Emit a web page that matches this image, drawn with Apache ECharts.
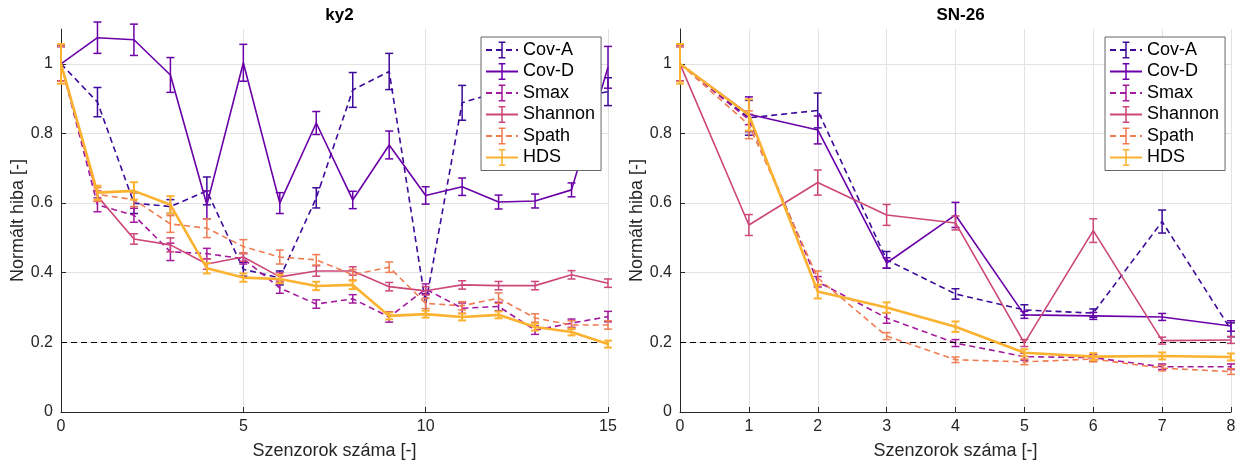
<!DOCTYPE html>
<html>
<head>
<meta charset="utf-8">
<script src="https://cdn.jsdelivr.net/npm/echarts@6/dist/echarts.min.js"></script>
<style>
html,body{margin:0;padding:0;background:#fff;}
#chart{width:1242px;height:469px;}
</style>
</head>
<body>
<div id="chart"></div>
<script>
// ---------------- DATA ----------------
const seriesNames = ['Cov-A', 'Cov-D', 'Smax', 'Shannon', 'Spath', 'HDS'];
const titles = ['ky2', 'SN-26'];
const xName = 'Szenzorok száma [-]';
const yName = 'Normált hiba [-]';

// Left panel (ky2): x = 0..15
const xLeft = [0, 1, 2, 3, 4, 5, 6, 7, 8, 9, 10, 11, 12, 13, 14, 15];
const covA_L   = [1.00, 0.89, 0.60, 0.59, 0.635, 0.41, 0.385, 0.615, 0.925, 0.978, 0.31, 0.888, 0.92, 0.95, 0.90, 0.92];
const covA_Le  = [0.05, 0.042, 0.03, 0.02, 0.04, 0.02, 0.02, 0.029, 0.05, 0.052, 0.03, 0.05, 0.04, 0.04, 0.04, 0.04];
const covD_L   = [1.00, 1.075, 1.069, 0.968, 0.595, 1.003, 0.60, 0.83, 0.609, 0.767, 0.622, 0.647, 0.603, 0.606, 0.638, 0.99];
const covD_Le  = [0.05, 0.045, 0.045, 0.05, 0.04, 0.053, 0.03, 0.033, 0.025, 0.04, 0.025, 0.025, 0.02, 0.02, 0.02, 0.06];
const smax_L   = [1.00, 0.595, 0.565, 0.46, 0.455, 0.44, 0.356, 0.31, 0.325, 0.273, 0.353, 0.298, 0.303, 0.235, 0.255, 0.274];
const smax_Le  = [0.05, 0.02, 0.02, 0.025, 0.015, 0.015, 0.015, 0.012, 0.012, 0.015, 0.015, 0.015, 0.012, 0.012, 0.012, 0.015];
const shan_L   = [1.00, 0.62, 0.497, 0.48, 0.425, 0.445, 0.388, 0.405, 0.405, 0.36, 0.348, 0.365, 0.363, 0.363, 0.394, 0.37];
const shan_Le  = [0.05, 0.015, 0.015, 0.02, 0.015, 0.012, 0.012, 0.015, 0.012, 0.012, 0.012, 0.012, 0.012, 0.012, 0.012, 0.012];
const spath_L  = [1.00, 0.625, 0.61, 0.54, 0.528, 0.475, 0.445, 0.437, 0.394, 0.416, 0.312, 0.305, 0.327, 0.27, 0.25, 0.25];
const spath_Le = [0.05, 0.02, 0.02, 0.024, 0.027, 0.02, 0.02, 0.015, 0.015, 0.015, 0.015, 0.012, 0.015, 0.012, 0.012, 0.012];
const hds_L    = [1.00, 0.63, 0.635, 0.595, 0.413, 0.386, 0.382, 0.362, 0.365, 0.276, 0.281, 0.273, 0.279, 0.244, 0.23, 0.195];
const hds_Le   = [0.057, 0.02, 0.025, 0.025, 0.015, 0.012, 0.012, 0.012, 0.012, 0.01, 0.01, 0.01, 0.01, 0.01, 0.01, 0.01];

// Right panel (SN-26): x = 0..8
const xRight = [0, 1, 2, 3, 4, 5, 6, 7, 8];
const covA_R   = [1.00, 0.845, 0.866, 0.437, 0.339, 0.293, 0.284, 0.547, 0.236];
const covA_Re  = [0.05, 0.05, 0.05, 0.024, 0.015, 0.015, 0.012, 0.033, 0.02];
const covD_R   = [1.00, 0.855, 0.81, 0.428, 0.566, 0.279, 0.276, 0.273, 0.247];
const covD_Re  = [0.05, 0.05, 0.04, 0.015, 0.036, 0.01, 0.01, 0.01, 0.015];
const smax_R   = [1.00, 0.84, 0.374, 0.27, 0.198, 0.159, 0.156, 0.13, 0.13];
const smax_Re  = [0.05, 0.015, 0.015, 0.015, 0.01, 0.01, 0.01, 0.008, 0.008];
const shan_R   = [1.00, 0.537, 0.659, 0.566, 0.543, 0.198, 0.521, 0.205, 0.207];
const shan_Re  = [0.05, 0.03, 0.036, 0.03, 0.02, 0.01, 0.034, 0.01, 0.01];
const spath_R  = [1.00, 0.825, 0.385, 0.218, 0.15, 0.144, 0.152, 0.126, 0.116];
const spath_Re = [0.05, 0.04, 0.02, 0.01, 0.008, 0.008, 0.008, 0.008, 0.008];
const hds_R    = [1.00, 0.853, 0.346, 0.30, 0.245, 0.17, 0.159, 0.161, 0.158];
const hds_Re   = [0.057, 0.045, 0.02, 0.015, 0.015, 0.01, 0.01, 0.01, 0.01];

const refLevel = 0.2;
const yTicks = { min: 0, max: 1.1, interval: 0.2 };
const xTicksLeft = { min: 0, max: 15, interval: 5 };
const xTicksRight = { min: 0, max: 8, interval: 1 };

// ---------------- STYLE ----------------
const colors = ['#3d0a9a', '#6a00a8', '#a3199e', '#cc4778', '#ef7c52', '#fbb230'];
const dashed = [true, false, true, false, true, false];
const widths = [1.6, 1.6, 1.6, 1.6, 1.6, 2.6];
const FONT = 'Liberation Sans, Arial, Helvetica, sans-serif';
const AX = '#262626';
const GRIDC = '#e2e2e2';
const ebSymbol = 'path://M0,0M20,20M6,0H14V1.8H10.9V18.2H14V20H6V18.2H9.1V1.8H6Z';

const leftSets = [[covA_L, covA_Le], [covD_L, covD_Le], [smax_L, smax_Le], [shan_L, shan_Le], [spath_L, spath_Le], [hds_L, hds_Le]];
const rightSets = [[covA_R, covA_Re], [covD_R, covD_Re], [smax_R, smax_Re], [shan_R, shan_Re], [spath_R, spath_Re], [hds_R, hds_Re]];

function errRender(color, width) {
  return function (params, api) {
    const x = api.value(0), y = api.value(1), e = api.value(2);
    const t = api.coord([x, y + e]);
    const b = api.coord([x, y - e]);
    const hw = 4;
    const st = { stroke: color, lineWidth: width, fill: null };
    return {
      type: 'group',
      children: [
        { type: 'line', shape: { x1: t[0], y1: t[1], x2: b[0], y2: b[1] }, style: st },
        { type: 'line', shape: { x1: t[0] - hw, y1: t[1], x2: t[0] + hw, y2: t[1] }, style: st },
        { type: 'line', shape: { x1: b[0] - hw, y1: b[1], x2: b[0] + hw, y2: b[1] }, style: st }
      ]
    };
  };
}

const series = [];
function addPanel(idx, xs, sets) {
  sets.forEach((s, i) => {
    const vals = s[0], errs = s[1];
    const line = {
      type: 'line',
      name: seriesNames[i],
      xAxisIndex: idx, yAxisIndex: idx,
      data: xs.map((x, k) => [x, vals[k]]),
      symbol: ebSymbol,
      symbolSize: 14,
      showSymbol: false,
      silent: true,
      animation: false,
      emphasis: { disabled: true },
      itemStyle: { color: colors[i] },
      lineStyle: { color: colors[i], width: widths[i], type: dashed[i] ? [6, 4] : 'solid' },
      z: 2 + i
    };
    if (i === 0) {
      line.markLine = {
        silent: true,
        symbol: ['none', 'none'],
        label: { show: false },
        lineStyle: { color: '#000', width: 1, type: [6, 4] },
        data: [{ yAxis: refLevel }],
        animation: false
      };
    }
    series.push(line);
    series.push({
      type: 'custom',
      xAxisIndex: idx, yAxisIndex: idx,
      data: xs.map((x, k) => [x, vals[k], errs[k]]),
      renderItem: errRender(colors[i], i === 5 ? 2 : 1.5),
      silent: true,
      animation: false,
      clip: false,
      z: 2 + i
    });
  });
}
addPanel(0, xLeft, leftSets);
addPanel(1, xRight, rightSets);

function xAxisCfg(idx, t) {
  return {
    gridIndex: idx, type: 'value', min: t.min, max: t.max, interval: t.interval,
    name: xName, nameLocation: 'middle', nameGap: 30,
    nameTextStyle: { fontSize: 18, color: AX, fontFamily: FONT },
    axisLine: { show: true, onZero: false, lineStyle: { color: AX, width: 1 } },
    axisTick: { show: true, inside: true, length: 5, lineStyle: { color: AX } },
    axisLabel: { fontSize: 16, color: AX, fontFamily: FONT, margin: 7 },
    splitLine: { show: true, lineStyle: { color: GRIDC, width: 1 } }
  };
}
function yAxisCfg(idx) {
  return {
    gridIndex: idx, type: 'value', min: yTicks.min, max: yTicks.max, interval: yTicks.interval,
    name: yName, nameLocation: 'middle', nameGap: 34,
    nameTextStyle: { fontSize: 18, color: AX, fontFamily: FONT },
    axisLine: { show: true, onZero: false, lineStyle: { color: AX, width: 1 } },
    axisTick: { show: true, inside: true, length: 5, lineStyle: { color: AX } },
    axisLabel: { fontSize: 16, color: AX, fontFamily: FONT, margin: 8, showMaxLabel: false },
    splitLine: { show: true, showMaxLine: false, lineStyle: { color: GRIDC, width: 1 } }
  };
}
function legendCfg(left) {
  return {
    orient: 'vertical', left: left, top: 37,
    itemWidth: 32, itemHeight: 21, itemGap: 3.5,
    padding: [4, 6, 4, 4],
    backgroundColor: '#fff', borderColor: '#666', borderWidth: 1, borderRadius: 0,
    textStyle: { fontSize: 18, color: '#000', fontFamily: FONT },
    itemStyle: { borderWidth: 0 },
    selectedMode: false,
    data: seriesNames
  };
}

const option = {
  backgroundColor: '#fff',
  animation: false,
  title: [
    { text: titles[0], left: 334.5, textAlign: 'center', top: 2, textStyle: { fontSize: 17, fontWeight: 'bold', color: '#000', fontFamily: FONT } },
    { text: titles[1], left: 955.5, textAlign: 'center', top: 2, textStyle: { fontSize: 17, fontWeight: 'bold', color: '#000', fontFamily: FONT } }
  ],
  grid: [
    { left: 61, right: 1242 - 608, top: 29, bottom: 57 },
    { left: 680, right: 1242 - 1231, top: 29, bottom: 57 }
  ],
  xAxis: [xAxisCfg(0, xTicksLeft), xAxisCfg(1, xTicksRight)],
  yAxis: [yAxisCfg(0), yAxisCfg(1)],
  legend: [legendCfg(481), legendCfg(1105)],
  series: series
};

const chart = echarts.init(document.getElementById('chart'), null, { renderer: 'canvas' });
chart.setOption(option);
</script>
</body>
</html>
